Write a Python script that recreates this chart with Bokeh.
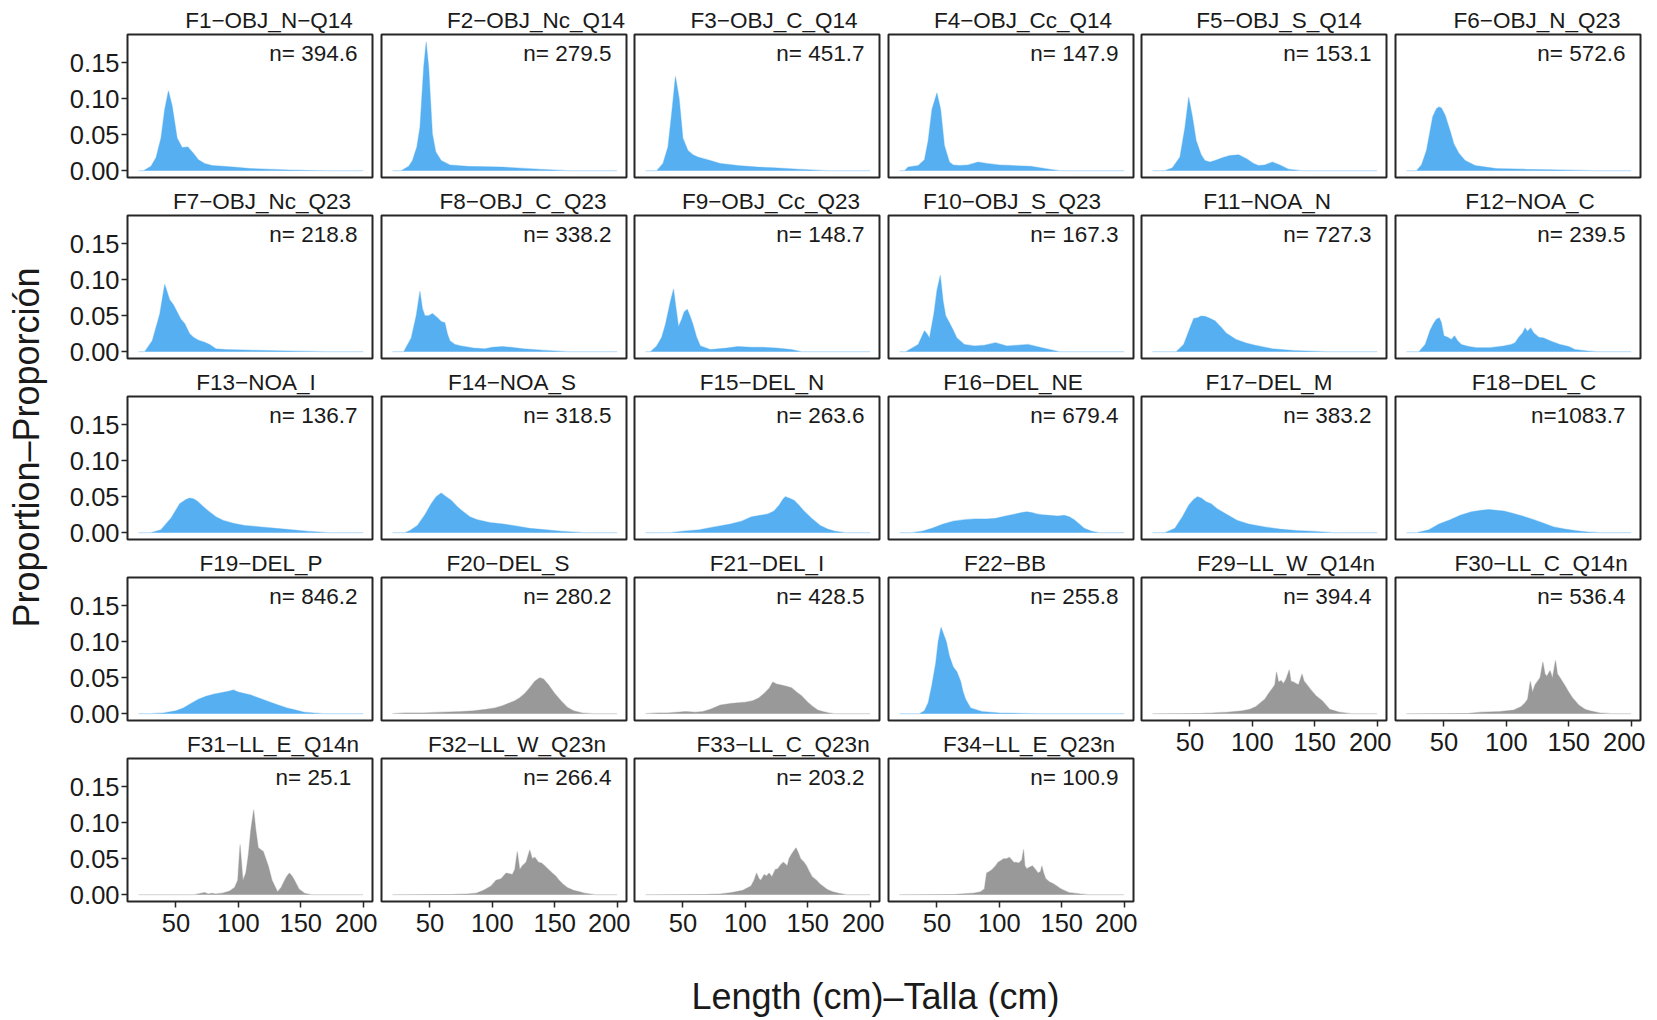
import math
from bokeh.plotting import figure
from bokeh.layouts import row, column
from bokeh.models import Range1d, FixedTicker, NumeralTickFormatter, Label
from bokeh.embed import file_html
from bokeh.resources import INLINE

# ---------------- data (length cm, proportion) ----------------
F1 = [(20, 0), (24, 0), (30, 0.006), (34, 0.018), (38, 0.045), (41, 0.085), (44, 0.111), (47, 0.09), (51, 0.045),
      (55, 0.032), (59.5, 0.033), (64, 0.024), (68, 0.015), (73, 0.01), (79, 0.007), (88, 0.006), (96, 0.005),
      (110, 0.003), (124, 0.002), (140, 0.001), (153, 0.0005), (170, 0), (200, 0)]
F2 = [(20, 0), (27, 0), (33, 0.006), (36, 0.014), (39.5, 0.033), (42, 0.06), (45, 0.144), (47, 0.179), (49, 0.144),
      (52, 0.051), (54.7, 0.026), (59, 0.014), (66, 0.008), (80, 0.006), (108, 0.005), (137, 0.002), (160, 0), (200, 0)]
F3 = [(20, 0), (29, 0), (34, 0.01), (38, 0.033), (41, 0.08), (44, 0.131), (47, 0.1), (50, 0.045), (54, 0.028),
      (58, 0.022), (62, 0.019), (66, 0.017), (72, 0.014), (80, 0.01), (94, 0.007), (110, 0.005), (123, 0.004),
      (142, 0.002), (165, 0), (200, 0)]
F4 = [(20, 0), (24, 0), (27, 0.005), (35, 0.007), (40, 0.015), (43, 0.042), (46, 0.085), (50, 0.108), (53, 0.085),
      (56, 0.035), (60, 0.012), (63, 0.008), (68, 0.007), (75, 0.008), (83, 0.012), (90, 0.01), (100, 0.008),
      (111, 0.007), (125, 0.006), (140, 0.002), (148, 0), (200, 0)]
F5 = [(20, 0), (30, 0), (36, 0.004), (42, 0.019), (46, 0.06), (49, 0.102), (52, 0.075), (55, 0.042), (59, 0.022),
      (62, 0.014), (66, 0.012), (70, 0.014), (76, 0.018), (82, 0.021), (89, 0.022), (96, 0.016), (101, 0.01),
      (105, 0.007), (110, 0.008), (116, 0.012), (122, 0.008), (129, 0.002), (139, 0), (200, 0)]
F6 = [(20, 0), (28, 0), (32, 0.008), (36, 0.028), (41, 0.075), (44, 0.086), (46, 0.0885), (48, 0.087), (51, 0.077),
      (55, 0.055), (58, 0.037), (62, 0.024), (67, 0.014), (75, 0.007), (92, 0.003), (115, 0.002), (143, 0.001),
      (170, 0), (200, 0)]
F7 = [(20, 0), (25, 0), (31, 0.015), (37, 0.052), (41, 0.0935), (45, 0.072), (48, 0.065), (51, 0.055), (54, 0.045),
      (57, 0.039), (61, 0.025), (64, 0.02), (68, 0.016), (73, 0.013), (77, 0.01), (82, 0.004), (90, 0.003),
      (110, 0.002), (139, 0.001), (170, 0), (200, 0)]
F8 = [(20, 0), (29, 0), (35, 0.019), (39, 0.05), (42, 0.084), (44, 0.06), (46, 0.05), (49, 0.05), (52, 0.053),
      (56, 0.047), (59, 0.042), (62, 0.04), (64, 0.025), (66, 0.015), (70, 0.01), (75, 0.008), (85, 0.005),
      (94, 0.004), (100, 0.006), (108, 0.007), (115, 0.006), (125, 0.004), (140, 0.002), (160, 0), (200, 0)]
F9 = [(20, 0), (24, 0), (29, 0.008), (33, 0.02), (36, 0.038), (40, 0.07), (42.5, 0.087), (44.5, 0.06), (46.5, 0.035),
      (49, 0.045), (51, 0.055), (53.5, 0.059), (56, 0.048), (58, 0.038), (61, 0.02), (64, 0.008), (72, 0.003),
      (85, 0.005), (94, 0.007), (105, 0.006), (114, 0.006), (125, 0.005), (137, 0.003), (145, 0), (200, 0)]
F10 = [(20, 0), (25, 0), (35, 0.01), (40, 0.029), (42, 0.025), (44, 0.019), (47.5, 0.052), (50, 0.085), (52.7, 0.106),
       (55, 0.07), (57, 0.05), (60, 0.04), (63, 0.03), (66, 0.019), (72, 0.01), (80, 0.008), (88, 0.009),
       (97, 0.0125), (102, 0.01), (106, 0.008), (115, 0.009), (123, 0.01), (134, 0.0055), (148, 0), (200, 0)]
F11 = [(20, 0), (39, 0), (45, 0.01), (50, 0.033), (53, 0.046), (56, 0.047), (59, 0.0495), (62, 0.049), (65, 0.047),
       (70, 0.043), (75, 0.034), (79, 0.026), (87, 0.017), (95, 0.012), (102, 0.009), (116, 0.004), (133, 0.0015),
       (159, 0), (200, 0)]
F12 = [(20, 0), (30, 0), (35, 0.01), (39, 0.03), (42, 0.04), (44, 0.045), (46.3, 0.047), (48, 0.04), (50, 0.022),
       (53, 0.02), (56, 0.017), (58.5, 0.022), (61, 0.015), (64, 0.01), (70, 0.007), (76, 0.0055), (87, 0.0055),
       (98, 0.008), (104, 0.01), (107, 0.0125), (110, 0.02), (113, 0.026), (115, 0.033), (117, 0.028),
       (119.5, 0.033), (122, 0.026), (126, 0.02), (130, 0.019), (135, 0.015), (143, 0.01), (150, 0.007),
       (155, 0.003), (165, 0.001), (172, 0), (200, 0)]
F13 = [(20, 0), (30, 0), (38, 0.004), (46, 0.02), (53, 0.04), (58, 0.046), (61, 0.048), (64, 0.047), (67, 0.044),
       (72, 0.036), (76, 0.03), (82, 0.022), (88, 0.017), (96, 0.013), (105, 0.01), (118, 0.008), (130, 0.006),
       (143, 0.004), (155, 0.002), (172, 0), (200, 0)]
F14 = [(20, 0), (30, 0), (34, 0.003), (40, 0.01), (46, 0.025), (51, 0.04), (55, 0.05), (59, 0.055), (63, 0.05),
       (67, 0.045), (72, 0.036), (76, 0.03), (82, 0.022), (88, 0.018), (98, 0.014), (109, 0.012), (120, 0.009),
       (130, 0.006), (143, 0.004), (155, 0.002), (173, 0), (200, 0)]
F15 = [(20, 0), (40, 0), (50, 0.002), (63, 0.004), (75, 0.008), (88, 0.012), (97, 0.016), (105, 0.022), (112, 0.024),
       (118, 0.026), (123, 0.03), (127, 0.038), (130, 0.046), (132, 0.05), (135, 0.048), (139, 0.045), (143, 0.038),
       (147, 0.03), (153, 0.02), (160, 0.01), (166, 0.005), (172, 0.002), (180, 0), (200, 0)]
F16 = [(20, 0), (30, 0), (38, 0.002), (46, 0.006), (55, 0.012), (63, 0.016), (72, 0.018), (80, 0.019), (90, 0.019),
       (97, 0.02), (105, 0.023), (113, 0.026), (118, 0.028), (122, 0.029), (126, 0.028), (130, 0.026), (134, 0.025),
       (140, 0.024), (147, 0.023), (152, 0.024), (156, 0.022), (160, 0.018), (164, 0.012), (168, 0.006),
       (174, 0.002), (180, 0), (200, 0)]
F17 = [(20, 0), (30, 0), (38, 0.006), (44, 0.022), (49, 0.038), (53, 0.046), (56, 0.05), (59, 0.048), (63, 0.043),
       (67, 0.04), (72, 0.033), (80, 0.025), (88, 0.017), (97, 0.012), (110, 0.008), (122, 0.005), (135, 0.003),
       (147, 0.002), (165, 0), (200, 0)]
F18 = [(20, 0), (28, 0), (38, 0.004), (46, 0.012), (55, 0.018), (63, 0.024), (72, 0.029), (80, 0.031), (86, 0.032),
       (92, 0.031), (98, 0.03), (105, 0.027), (113, 0.023), (122, 0.018), (130, 0.013), (138, 0.008), (147, 0.005),
       (155, 0.003), (165, 0.001), (175, 0), (200, 0)]
F19 = [(20, 0), (30, 0), (40, 0.001), (50, 0.004), (56, 0.008), (62, 0.014), (68, 0.02), (74, 0.024), (80, 0.027),
       (86, 0.029), (92, 0.031), (96, 0.033), (100, 0.03), (105, 0.028), (110, 0.026), (116, 0.022), (124, 0.017),
       (132, 0.012), (139, 0.008), (146, 0.005), (153, 0.002), (160, 0.001), (168, 0), (200, 0)]
F20 = [(20, 0), (30, 0.001), (45, 0.001), (60, 0.002), (75, 0.003), (85, 0.004), (95, 0.006), (102, 0.008),
       (108, 0.011), (114, 0.015), (118, 0.018), (122, 0.022), (126, 0.028), (130, 0.036), (134, 0.045), (138, 0.05),
       (141, 0.048), (145, 0.04), (150, 0.028), (155, 0.018), (160, 0.009), (165, 0.004), (172, 0.001), (180, 0),
       (200, 0)]
F21 = [(20, 0), (30, 0.001), (38, 0.001), (52, 0.003), (60, 0.002), (66, 0.003), (72, 0.006), (80, 0.012), (88, 0.014),
       (94, 0.015), (100, 0.016), (106, 0.018), (111, 0.022), (115, 0.028), (119, 0.035), (122, 0.044), (125, 0.041),
       (128, 0.04), (133, 0.038), (137, 0.036), (141, 0.03), (145, 0.025), (150, 0.016), (154, 0.01), (158, 0.005),
       (162, 0.003), (167, 0.001), (171, 0), (200, 0)]
F22 = [(20, 0), (36, 0), (40, 0.004), (43, 0.015), (46, 0.04), (49, 0.07), (51, 0.1), (53.3, 0.12), (55, 0.112),
       (57.5, 0.1), (60, 0.08), (63, 0.065), (66, 0.058), (69, 0.045), (71, 0.03), (73, 0.02), (77, 0.008),
       (86, 0.003), (100, 0.001), (130, 0), (200, 0)]
F29 = [(20, 0), (60, 0.0005), (68, 0.001), (80, 0.002), (86, 0.003), (92, 0.004), (98, 0.006), (103, 0.01),
       (107, 0.016), (110, 0.02), (113, 0.028), (116, 0.035), (118, 0.04), (119.4, 0.058), (121, 0.044),
       (123, 0.046), (125, 0.042), (127, 0.048), (129.6, 0.061), (131, 0.045), (133, 0.044), (135, 0.042),
       (137, 0.04), (139.8, 0.055), (141.5, 0.045), (143, 0.042), (147, 0.033), (151, 0.025), (156, 0.018),
       (162, 0.006), (166, 0.004), (170, 0.002), (179, 0), (200, 0)]
F30 = [(20, 0), (70, 0.0005), (80, 0.002), (95, 0.003), (106, 0.005), (112, 0.01), (115, 0.015), (117, 0.02),
       (119.2, 0.045), (121, 0.03), (123, 0.04), (125, 0.045), (127, 0.05), (129.3, 0.072), (131, 0.055),
       (132.5, 0.052), (135, 0.06), (137, 0.05), (139.4, 0.074), (141, 0.055), (143, 0.05), (146.6, 0.04),
       (150, 0.03), (153, 0.022), (158, 0.012), (163, 0.006), (167, 0.004), (175, 0.001), (184, 0), (200, 0)]
F31 = [(20, 0), (65, 0), (70, 0.002), (73, 0.003), (76, 0.001), (79, 0.002), (82, 0.001), (87, 0.002), (93, 0.005),
       (97, 0.01), (99.5, 0.02), (101.4, 0.07), (103.7, 0.02), (106, 0.03), (108, 0.055), (110, 0.09),
       (112.3, 0.118), (114, 0.09), (116, 0.065), (120, 0.06), (124, 0.04), (127, 0.02), (131.4, 0.004),
       (134.3, 0.01), (136.5, 0.018), (138.6, 0.025), (140.9, 0.03), (143, 0.026), (145, 0.02), (148.6, 0.008),
       (153, 0.002), (158.6, 0), (200, 0)]
F32 = [(20, 0), (70, 0.0005), (80, 0.001), (87, 0.002), (93, 0.006), (99, 0.012), (103, 0.02), (107, 0.022),
       (111, 0.03), (114, 0.029), (116, 0.028), (118, 0.035), (120, 0.06), (122, 0.035), (124, 0.04), (127, 0.045),
       (130, 0.062), (132, 0.05), (134, 0.052), (137, 0.045), (139.4, 0.044), (142, 0.04), (145, 0.035),
       (148, 0.03), (150.8, 0.026), (153.5, 0.02), (156.3, 0.015), (160, 0.01), (165, 0.006), (170, 0.004),
       (174, 0.002), (182, 0), (200, 0)]
F33 = [(20, 0), (70, 0.0005), (80, 0.001), (89, 0.003), (98, 0.006), (104.5, 0.012), (107, 0.02), (109, 0.03),
       (111, 0.022), (112.5, 0.02), (115, 0.028), (117, 0.026), (119, 0.03), (121.3, 0.025), (124, 0.035),
       (126, 0.036), (128.5, 0.042), (130.5, 0.045), (133.6, 0.04), (135, 0.05), (136.6, 0.055), (138.5, 0.06),
       (140.6, 0.065), (142.5, 0.058), (144.3, 0.05), (147, 0.045), (149, 0.04), (151, 0.033), (153.5, 0.025),
       (157, 0.02), (159.6, 0.015), (165.7, 0.007), (170, 0.004), (175, 0.002), (181, 0), (200, 0)]
F34 = [(20, 0), (65, 0.0005), (79, 0.002), (85, 0.004), (88, 0.008), (89.8, 0.03), (92, 0.032), (94.3, 0.035),
       (97, 0.04), (99, 0.045), (101, 0.047), (103.5, 0.05), (106, 0.05), (108, 0.052), (110, 0.048),
       (111.5, 0.045), (113, 0.045), (115.7, 0.044), (118, 0.048), (119.4, 0.063), (120.5, 0.04), (122, 0.036),
       (124, 0.038), (126.5, 0.04), (129, 0.035), (131, 0.03), (133, 0.032), (134.1, 0.04), (135.5, 0.03),
       (137.2, 0.022), (140, 0.018), (143.3, 0.015), (146, 0.012), (149.5, 0.008), (155.6, 0.003), (160, 0.002),
       (164.8, 0.001), (171, 0), (200, 0)]

panel_names = ["F1−OBJ_N−Q14", "F2−OBJ_Nc_Q14", "F3−OBJ_C_Q14", "F4−OBJ_Cc_Q14", "F5−OBJ_S_Q14", "F6−OBJ_N_Q23",
               "F7−OBJ_Nc_Q23", "F8−OBJ_C_Q23", "F9−OBJ_Cc_Q23", "F10−OBJ_S_Q23", "F11−NOA_N", "F12−NOA_C",
               "F13−NOA_I", "F14−NOA_S", "F15−DEL_N", "F16−DEL_NE", "F17−DEL_M", "F18−DEL_C",
               "F19−DEL_P", "F20−DEL_S", "F21−DEL_I", "F22−BB", "F29−LL_W_Q14n", "F30−LL_C_Q14n",
               "F31−LL_E_Q14n", "F32−LL_W_Q23n", "F33−LL_C_Q23n", "F34−LL_E_Q23n"]
n_values = [394.6, 279.5, 451.7, 147.9, 153.1, 572.6,
            218.8, 338.2, 148.7, 167.3, 727.3, 239.5,
            136.7, 318.5, 263.6, 679.4, 383.2, 1083.7,
            846.2, 280.2, 428.5, 255.8, 394.4, 536.4,
            25.1, 266.4, 203.2, 100.9]
panel_groups = ["s"] * 19 + ["g", "g", "s", "g", "g", "g", "g", "g", "g"]
panel_data = [F1, F2, F3, F4, F5, F6, F7, F8, F9, F10, F11, F12, F13, F14, F15, F16, F17, F18,
              F19, F20, F21, F22, F29, F30, F31, F32, F33, F34]
y_ticks = [0, 0.05, 0.10, 0.15]
x_ticks = [50, 100, 150, 200]

# ---------------- styling / layout ----------------
FONT = "Liberation Sans"
COLORS = {"s": "#55AFF0", "g": "#999999"}
XR = (11.2, 207.5)
YR = (-0.0095, 0.189)
FW, FH = 245, 143
TOP_FIRST, TOP, BOT, BOT_AX = 34, 30, 8, 44
LEFT0, LEFT = 75, 4
RIGHTS = [5, 4, 5, 4, 5, 5]
YT_W = 52
TOTAL_H = 1019
TITLE_PX = 22.5
# horizontal shift (px) of each panel title from the panel centre
TITLE_SHIFT = [19, 32, 17, 12, 15, 19, 12, 19, 14, 1, 4, 12, 6, 8, 5, 2, 5, 16, 11, 4, 10, -6, 22, 23,
               23, 13, 26, 18]
# Arial / Liberation Sans advance widths (1/1000 em) used to centre the titles
GLYPH_W = {"F": 611, "O": 778, "B": 667, "J": 500, "_": 556, "N": 722, "c": 500, "Q": 778, "C": 722,
           "S": 667, "A": 667, "I": 278, "D": 722, "E": 667, "L": 556, "M": 833, "P": 667, "W": 944,
           "n": 556, "−": 584, "-": 333, " ": 278}


def text_width(s, px):
    return sum(GLYPH_W.get(ch, 556) for ch in s) * px / 1000.0


def make_panel(idx, col, first, with_x):
    pts = panel_data[idx]
    xs = [p[0] for p in pts]
    ys = [p[1] for p in pts]
    color = COLORS[panel_groups[idx]]
    p = figure(frame_width=FW, frame_height=FH,
               x_range=Range1d(*XR), y_range=Range1d(*YR),
               x_axis_location="below" if with_x else None,
               y_axis_location="left" if col == 0 else None,
               min_border_left=LEFT0 if col == 0 else LEFT, min_border_right=RIGHTS[col],
               min_border_top=TOP_FIRST if first else TOP,
               min_border_bottom=BOT_AX if with_x else BOT,
               output_backend="svg", toolbar_location=None, title=panel_names[idx])
    p.grid.visible = False
    p.outline_line_color = "#262626"
    p.outline_line_width = 2
    p.background_fill_color = "white"
    p.border_fill_color = "white"

    t = p.title
    t.text_font = FONT
    t.text_font_size = "%gpx" % TITLE_PX
    t.text_font_style = "normal"
    t.text_color = "#1a1a1a"
    t.align = "left"
    t.offset = (FW - text_width(panel_names[idx], TITLE_PX)) / 2 + TITLE_SHIFT[idx]
    t.standoff = 3

    p.varea(x=xs, y1=0, y2=ys, fill_color=color, fill_alpha=1.0)
    p.line(x=xs, y=ys, line_color=color, line_alpha=0.35, line_width=1.2)

    p.add_layout(Label(x=XR[1], y=YR[1], x_offset=-15, y_offset=-19,
                       text="n=%6.1f" % n_values[idx], text_align="right", text_baseline="middle",
                       text_font=FONT, text_font_size="22.5px", text_color="#1a1a1a"))

    axes = []
    if col == 0:
        ax = p.yaxis[0]
        ax.ticker = FixedTicker(ticks=y_ticks)
        ax.formatter = NumeralTickFormatter(format="0.00")
        ax.major_label_standoff = 2
        axes.append(ax)
    if with_x:
        ax = p.xaxis[0]
        ax.ticker = FixedTicker(ticks=x_ticks)
        ax.major_label_standoff = 6
        axes.append(ax)
    for ax in axes:
        ax.axis_line_color = None
        ax.minor_tick_line_color = None
        ax.major_tick_in = 0
        ax.major_tick_out = 6
        ax.major_tick_line_color = "#262626"
        ax.major_tick_line_width = 1.5
        ax.major_label_text_font = FONT
        ax.major_label_text_font_size = "25.5px"
        ax.major_label_text_color = "#1a1a1a"
    return p


cols = []
for c in range(6):
    rows_in_col = [r for r in range(5) if r * 6 + c < len(panel_data)]
    figs = []
    for k, r in enumerate(rows_in_col):
        figs.append(make_panel(r * 6 + c, c, k == 0, k == len(rows_in_col) - 1))
    cols.append(column(*figs))

H = (TOP_FIRST + FH + BOT) + 3 * (TOP + FH + BOT) + (TOP + FH + BOT_AX)
TOTAL_W = YT_W + (LEFT0 + FW + RIGHTS[0]) + sum(LEFT + FW + r for r in RIGHTS[1:])
XT_H = TOTAL_H - H

yt = figure(frame_width=YT_W, frame_height=H, x_range=Range1d(0, YT_W), y_range=Range1d(0, H),
            x_axis_location=None, y_axis_location=None, min_border=0, outline_line_color=None,
            output_backend="svg", toolbar_location=None)
yt.grid.visible = False
yt.add_layout(Label(x=26.4, y=H - 447, text="Proportion–Proporción", angle=math.pi / 2,
                    text_align="center", text_baseline="middle", text_font=FONT,
                    text_font_size="36px", text_color="#1a1a1a"))

xt = figure(frame_width=TOTAL_W, frame_height=XT_H, x_range=Range1d(0, TOTAL_W), y_range=Range1d(0, XT_H),
            x_axis_location=None, y_axis_location=None, min_border=0, outline_line_color=None,
            output_backend="svg", toolbar_location=None)
xt.grid.visible = False
xt.add_layout(Label(x=875, y=TOTAL_H - 996, text="Length (cm)–Talla (cm)", text_align="center",
                    text_baseline="middle", text_font=FONT, text_font_size="36px",
                    text_color="#1a1a1a"))

layout = column(row(yt, *cols), xt)
open("out.html", "w").write(file_html(layout, INLINE))
